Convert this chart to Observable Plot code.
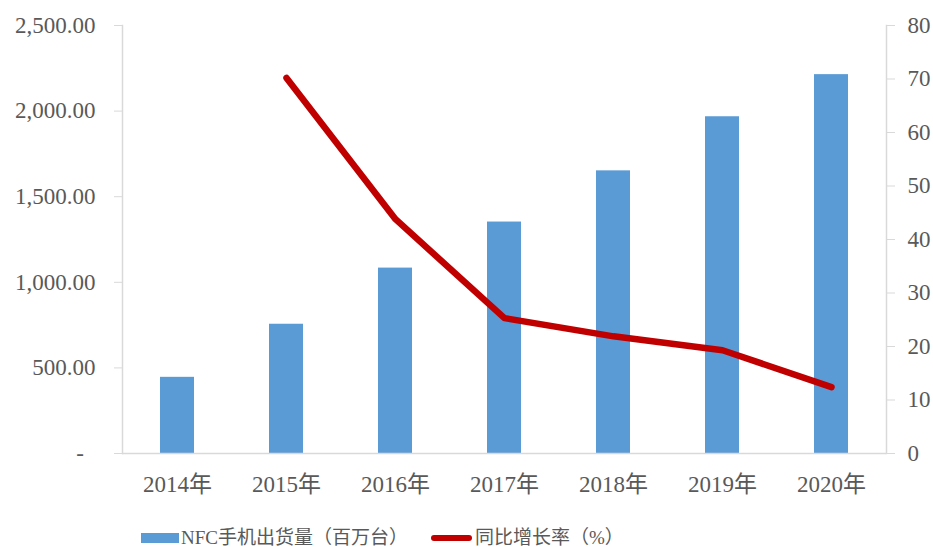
<!DOCTYPE html>
<html>
<head>
<meta charset="utf-8">
<script src="https://cdn.jsdelivr.net/npm/d3@7"></script>
<script src="https://cdn.jsdelivr.net/npm/@observablehq/plot@0.6"></script>
<style>
  body { margin: 0; background: white; overflow: hidden; }
  #legend { position: relative; width: 933px; height: 37px; font-family: "Liberation Serif", "Noto Sans CJK SC", serif; font-size: 19px; color: #595959; }
  #legend span { position: absolute; white-space: nowrap; }
</style>
</head>
<body>
<div id="chart"></div>
<div id="legend">
  <span style="left:141px;top:23px;width:38px;height:10px;background:#5b9bd5"></span>
  <span style="left:181px;top:17px;line-height:22px">NFC手机出货量（百万台）</span>
  <span style="left:431px;top:25px;width:41px;height:6px;background:#c00000;border-radius:3px"></span>
  <span style="left:475px;top:17px;line-height:22px">同比增长率（%）</span>
</div>
<script>
const years = ["2014年", "2015年", "2016年", "2017年", "2018年", "2019年", "2020年"];
const shipments = [445, 755, 1083, 1352, 1651, 1967, 2213];
const growthYears = ["2015年", "2016年", "2017年", "2018年", "2019年", "2020年"];
const growth = [70.2, 43.8, 25.3, 21.9, 19.3, 12.4];
const leftTicks = [0, 500, 1000, 1500, 2000, 2500];
const rightTicks = [0, 10, 20, 30, 40, 50, 60, 70, 80];

const leftMax = 2500, rightMax = 80;
const k = leftMax / rightMax;

const barData = years.map((year, i) => ({year, value: shipments[i]}));
const lineData = growthYears.map((year, i) => ({year, g: growth[i]}));
const fmt = d3.format(",.2f");

const chart = Plot.plot({
  width: 933,
  height: 510,
  marginLeft: 122,
  marginRight: 47,
  marginTop: 25,
  marginBottom: 57,
  style: {fontFamily: "'Liberation Serif','Noto Sans CJK SC',serif", fontSize: "23px", color: "#595959", background: "white"},
  x: {domain: years, paddingInner: 0.69, paddingOuter: 0.345, axis: null},
  y: {domain: [0, leftMax], axis: null},
  marks: [
    Plot.barY(barData, {x: "year", y: "value", fill: "#5b9bd5"}),
    Plot.frame({anchor: "left", stroke: "#d9d9d9", strokeWidth: 1.5}),
    Plot.frame({anchor: "right", stroke: "#d9d9d9", strokeWidth: 1.5}),
    Plot.ruleY([0], {stroke: "#d9d9d9", strokeWidth: 1.5}),
    Plot.axisX({tickSize: 0, tickPadding: 22, label: null}),
    Plot.axisY(leftTicks, {anchor: "left", tickSize: 8, tickPadding: 19, stroke: "#d9d9d9", label: null,
      tickFormat: d => d === 0 ? "-\u00a0\u00a0" : fmt(d)}),
    Plot.axisY(rightTicks.map(v => v * k), {anchor: "right", tickSize: 8, tickPadding: 13, stroke: "#d9d9d9", label: null,
      tickFormat: d => String(Math.round(d / k))}),
    Plot.line(lineData, {x: "year", y: d => d.g * k, stroke: "#c00000", strokeWidth: 6.5, strokeLinecap: "round", strokeLinejoin: "round"})
  ]
});
document.getElementById("chart").appendChild(chart);
</script>
</body>
</html>
